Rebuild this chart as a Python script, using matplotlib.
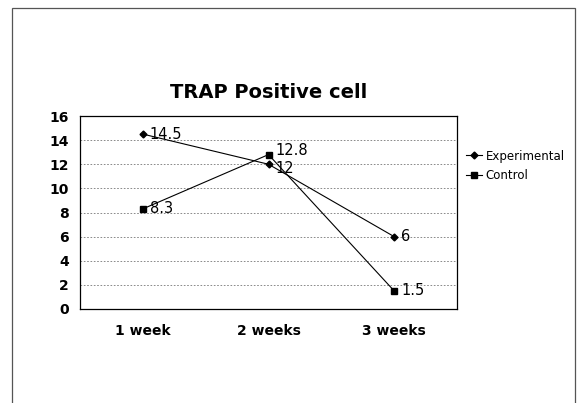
import matplotlib.pyplot as plt
from matplotlib.patches import Rectangle

categories = ["1 week", "2 weeks", "3 weeks"]
experimental = [14.5, 12, 6]
control = [8.3, 12.8, 1.5]
exp_labels = ["14.5", "12", "6"]
ctl_labels = ["8.3", "12.8", "1.5"]

W, H = 577, 403
fig = plt.figure(figsize=(W / 100, H / 100), dpi=100)
fig.patch.set_facecolor("white")

# outer chart frame (bottom edge runs off the page)
fig.patches.append(Rectangle((12 / W, -0.05), (575 - 12) / W, 1.05 - 8 / H,
                             transform=fig.transFigure, fill=False,
                             edgecolor="#555555", linewidth=0.9))

ax = fig.add_axes([80 / W, 1 - 309 / H, (457 - 80) / W, (309 - 116) / H])
x = range(len(categories))

ax.plot(x, experimental, color="black", linewidth=0.8, marker="D",
        markersize=3.5, label="Experimental")
ax.plot(x, control, color="black", linewidth=0.8, marker="s",
        markersize=4.5, label="Control")

# labels sit right of the point; the two at "2 weeks" are nudged apart a bit
for i, lab in enumerate(exp_labels):
    dy = -3 if i == 1 else 0
    ax.annotate(lab, (i, experimental[i]), xytext=(5, dy),
                textcoords="offset points", va="center", ha="left", fontsize=10.5)
for i, lab in enumerate(ctl_labels):
    dy = 3 if i == 1 else 0
    ax.annotate(lab, (i, control[i]), xytext=(5, dy),
                textcoords="offset points", va="center", ha="left", fontsize=10.5)

ax.set_xlim(-0.5, 2.5)
ax.set_ylim(0, 16)
ax.set_yticks(range(0, 17, 2))
ax.set_xticks(list(x))
ax.set_xticklabels(categories, fontsize=10, fontweight="bold")
for t in ax.get_yticklabels():
    t.set_fontsize(10)
    t.set_fontweight("bold")
ax.tick_params(axis="both", length=0, pad=8)
ax.tick_params(axis="x", pad=11)
ax.grid(axis="y", color="#777777", linestyle=(0, (2, 2)), linewidth=0.6)
for s in ax.spines.values():
    s.set_color("black")
    s.set_linewidth(0.9)

ax.set_title("TRAP Positive cell", fontsize=14, fontweight="bold", pad=13)

ax.legend(loc="upper left", bbox_to_anchor=(455 / W, 1 - 139 / H),
          bbox_transform=fig.transFigure, frameon=False,
          handlelength=1.4, handletextpad=0.3, labelspacing=0.55,
          prop={"size": 8.5})

fig.savefig("out.png", dpi=100)
